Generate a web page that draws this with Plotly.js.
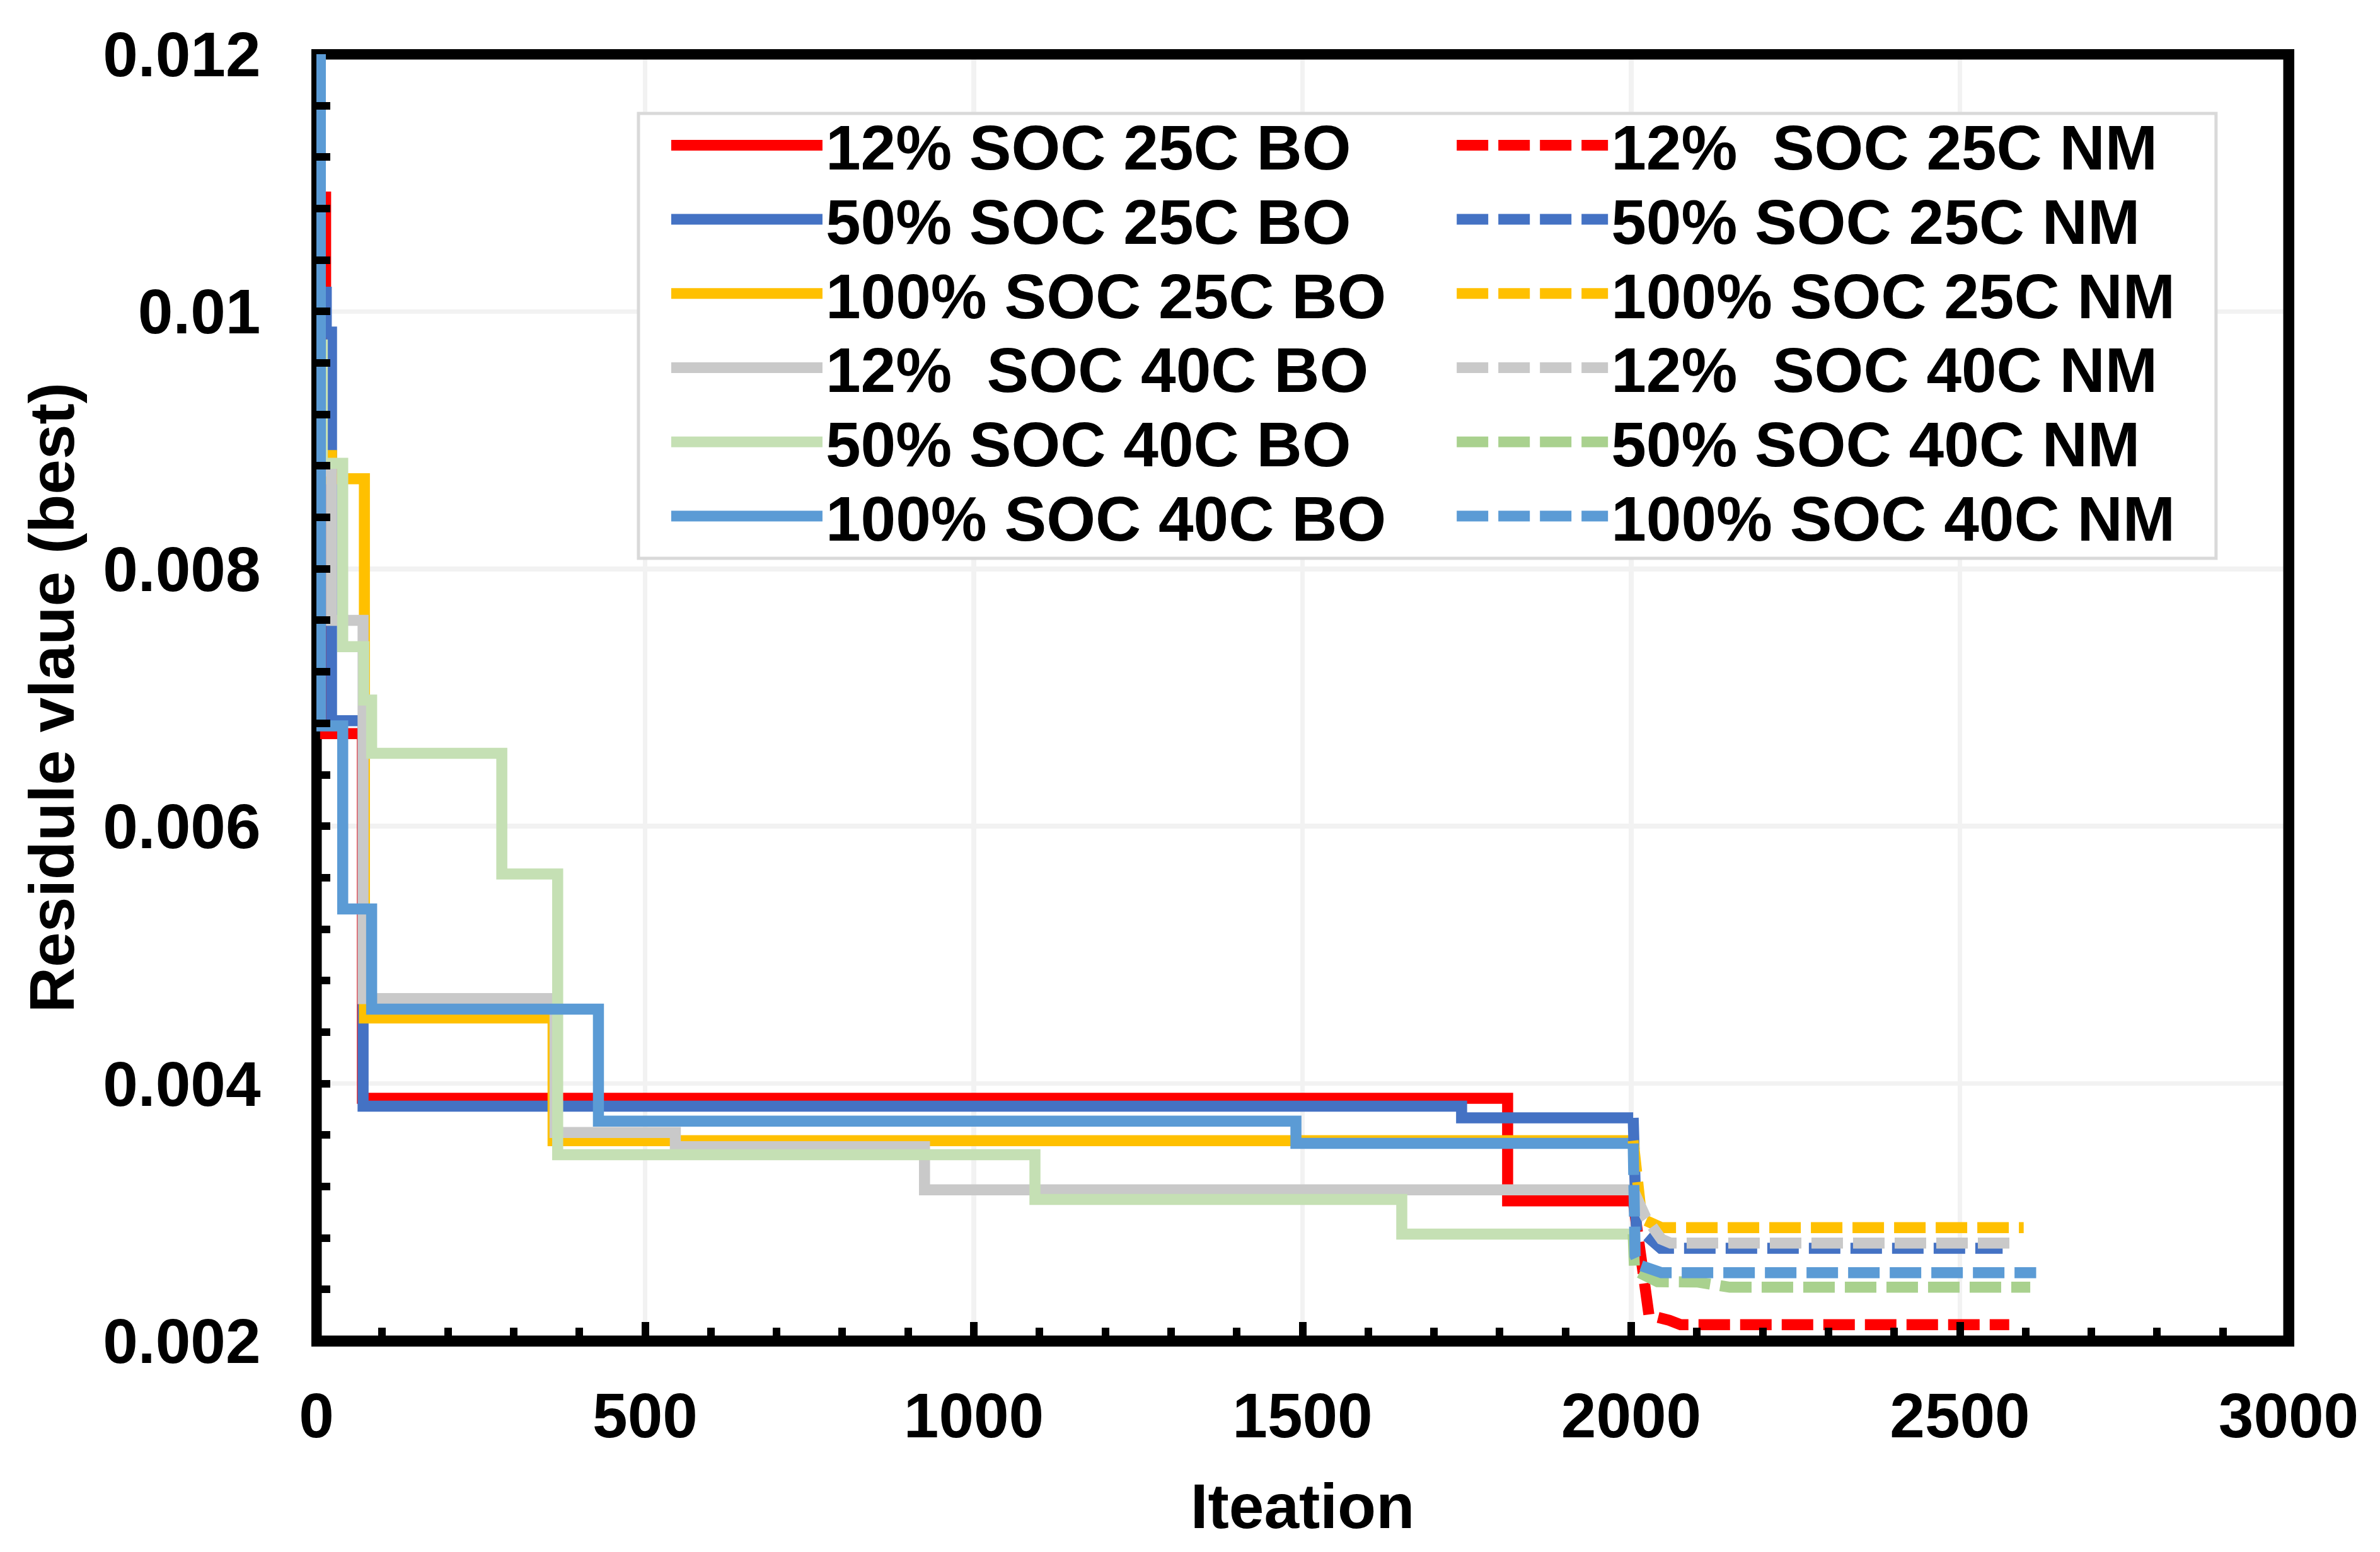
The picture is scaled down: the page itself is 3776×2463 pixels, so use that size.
<!DOCTYPE html>
<html>
<head>
<meta charset="utf-8">
<script src="https://cdn.plot.ly/plotly-3.0.1.min.js"></script>
<style>
  html, body { margin: 0; padding: 0; background: #ffffff; }
  #chart { width: 3776px; height: 2463px; }
</style>
</head>
<body>
<div id="chart"></div>
<script>
// ---------------- DATA ----------------
// Bayesian Optimisation (BO) runs: iteration at which the best residue changes, and the new best value (step curves)
const boNames = ["12% SOC 25C BO", "50% SOC 25C BO", "100% SOC 25C BO", "12%  SOC 40C BO", "50% SOC 40C BO", "100% SOC 40C BO"];
const nmNames = ["12%  SOC 25C NM", "50% SOC 25C NM", "100% SOC 25C NM", "12%  SOC 40C NM", "50% SOC 40C NM", "100% SOC 40C NM"];

const bo12_25_iter = [0, 14, 70, 1812, 2003];
const bo12_25_val  = [0.01089, 0.00672, 0.003885, 0.003088, 0.003088];

const bo50_25_iter = [0, 15, 23, 71, 1742, 2003];
const bo50_25_val  = [0.01015, 0.00984, 0.00682, 0.003824, 0.003734, 0.003734];

const bo100_25_iter = [0, 23, 73, 360, 2003];
const bo100_25_val  = [0.00888, 0.0087, 0.00451, 0.003556, 0.003556];

const bo12_40_iter = [0, 23, 71, 363, 546, 925, 2003];
const bo12_40_val  = [0.00876, 0.0076, 0.00466, 0.00362, 0.00351, 0.003174, 0.003174];

const bo50_40_iter = [0, 4, 9, 40, 72, 84, 282, 367, 1093, 1651, 2003];
const bo50_40_val  = [0.0125, 0.00974, 0.00882, 0.007395, 0.00698, 0.006567, 0.005629, 0.003447, 0.0031, 0.00283, 0.00283];

const bo100_40_iter = [0, 6, 40, 84, 429, 1490, 2003];
const bo100_40_val  = [0.0125, 0.00678, 0.005357, 0.004578, 0.003708, 0.003535, 0.003535];

// Nelder-Mead (NM) continuation runs
const nm12_25_iter = [2003, 2012, 2022, 2027, 2058, 2075, 2575];
const nm12_25_val  = [0.003088, 0.0027, 0.00232, 0.0022, 0.00216, 0.002126, 0.002126];

const nm50_25_iter = [2003, 2008, 2018, 2045, 2565];
const nm50_25_val  = [0.003734, 0.00286, 0.00284, 0.00272, 0.00272];

const nm100_25_iter = [2003, 2012, 2016, 2046, 2597];
const nm100_25_val  = [0.003556, 0.00305, 0.00295, 0.00288, 0.00288];

const nm12_40_iter = [2003, 2015, 2022, 2046, 2060, 2587];
const nm12_40_val  = [0.003174, 0.003, 0.00296, 0.00279, 0.00276, 0.00276];

const nm50_40_iter = [2003, 2005, 2040, 2100, 2150, 2607];
const nm50_40_val  = [0.00283, 0.00255, 0.00246, 0.002458, 0.002417, 0.002417];

const nm100_40_iter = [2003, 2006, 2012, 2046, 2616];
const nm100_40_val  = [0.003535, 0.00266, 0.00259, 0.00253, 0.00253];

// Axis ticks
const xTickVals = [0, 500, 1000, 1500, 2000, 2500, 3000];
const xTickText = ["0", "500", "1000", "1500", "2000", "2500", "3000"];
const yTickVals = [0.002, 0.004, 0.006, 0.008, 0.010, 0.012];
const yTickText = ["0.002", "0.004", "0.006", "0.008", "0.01", "0.012"];

const xTitle = "Iteation";
const yTitle = "Residule vlaue (best)";

// ---------------- STYLE ----------------
const FONT = 'Arial, "Liberation Sans", Helvetica, sans-serif';
const colors   = ["#FF0000", "#4472C4", "#FFC000", "#C9C9C9", "#C5E0B4", "#5B9BD5"];
const nmColors = ["#FF0000", "#4472C4", "#FFC000", "#C9C9C9", "#A9D18E", "#5B9BD5"];
const LW = 17.5;
const LEGEND_ROW_PITCH = 117.7;
const LEGEND_LINE_WIDTH = 17;

const boIters = [bo12_25_iter, bo50_25_iter, bo100_25_iter, bo12_40_iter, bo50_40_iter, bo100_40_iter];
const boVals  = [bo12_25_val, bo50_25_val, bo100_25_val, bo12_40_val, bo50_40_val, bo100_40_val];
const nmIters = [nm12_25_iter, nm50_25_iter, nm100_25_iter, nm12_40_iter, nm50_40_iter, nm100_40_iter];
const nmVals  = [nm12_25_val, nm50_25_val, nm100_25_val, nm12_40_val, nm50_40_val, nm100_40_val];

const traces = [];
for (let i = 0; i < 6; i++) {
  traces.push({
    type: 'scatter', mode: 'lines', name: boNames[i],
    x: boIters[i], y: boVals[i],
    line: { color: colors[i], width: LW, shape: 'hv' },
    legend: 'legend', hoverinfo: 'skip'
  });
}
for (let i = 0; i < 6; i++) {
  traces.push({
    type: 'scatter', mode: 'lines', name: nmNames[i],
    x: nmIters[i], y: nmVals[i],
    line: { color: nmColors[i], width: LW, dash: '50px,16px' },
    legend: 'legend2', hoverinfo: 'skip'
  });
}

const tickFont = { family: FONT, size: 100, color: '#000000', weight: 'bold' };
const legendFont = { family: FONT, size: 100, color: '#000000', weight: 'bold' };

const layout = {
  width: 3776, height: 2463,
  margin: { l: 502, r: 145, t: 86, b: 335, pad: 0 },
  paper_bgcolor: '#ffffff', plot_bgcolor: '#ffffff',
  font: { family: FONT, size: 100, color: '#000000', weight: 'bold' },
  showlegend: true,
  xaxis: {
    range: [0, 3000], tickmode: 'array', tickvals: xTickVals, ticktext: xTickText,
    ticks: 'inside', ticklen: 30, tickwidth: 12, tickcolor: '#000000',
    showline: true, linewidth: 8.5, linecolor: '#000000', mirror: true,
    showgrid: true, gridcolor: '#F2F2F2', gridwidth: 7.5, zeroline: false,
    minor: { tickmode: 'linear', tick0: 0, dtick: 100, ticks: 'inside', ticklen: 21.5, tickwidth: 12, tickcolor: '#000000', showgrid: false },
    tickfont: tickFont, ticklabelstandoff: 24,
    title: { text: xTitle, font: tickFont, standoff: 58 },
    automargin: false, fixedrange: true
  },
  yaxis: {
    range: [0.002, 0.012], tickmode: 'array', tickvals: yTickVals, ticktext: yTickText,
    ticks: 'inside', ticklen: 21.5, tickwidth: 12, tickcolor: '#000000',
    showline: true, linewidth: 8.5, linecolor: '#000000', mirror: true,
    showgrid: true, gridcolor: '#F2F2F2', gridwidth: 7.5, zeroline: false,
    minor: { tickmode: 'linear', tick0: 0.002, dtick: 0.0004, ticks: 'inside', ticklen: 21.5, tickwidth: 12, tickcolor: '#000000', showgrid: false },
    tickfont: tickFont, ticklabelstandoff: 60,
    title: { text: yTitle, font: tickFont, standoff: 16 },
    automargin: false, fixedrange: true
  },
  legend: {
    x: 0.1783, y: 0.9643, xanchor: 'left', yanchor: 'top',
    bgcolor: 'rgba(0,0,0,0)', borderwidth: 0, font: legendFont,
    itemwidth: 240, tracegroupgap: 0, orientation: 'v'
  },
  legend2: {
    x: 0.5766, y: 0.9643, xanchor: 'left', yanchor: 'top',
    bgcolor: 'rgba(0,0,0,0)', borderwidth: 0, font: legendFont,
    itemwidth: 240, tracegroupgap: 0, orientation: 'v'
  },
  shapes: [
    // inner half of the thick plot frame (outer half is the axis line)
    { type: 'rect', xref: 'x', yref: 'y', x0: 0, x1: 3000, y0: 0.002, y1: 0.012,
      line: { color: '#000000', width: 17 }, fillcolor: 'rgba(0,0,0,0)', layer: 'between' },
    // legend box
    { type: 'rect', xref: 'paper', yref: 'paper', x0: 0.1633, x1: 0.9632, y0: 0.6082, y1: 0.9540,
      line: { color: '#D9D9D9', width: 5 }, fillcolor: '#ffffff', layer: 'above' }
  ]
};

// Legend fine-tuning: tighter row pitch and thick sample lines, as in the original Excel chart
function tuneLegend(gd) {
  gd.querySelectorAll('.infolayer .scrollbox').forEach(function (sb) {
    var items = sb.querySelectorAll('g.traces');
    var y0 = null;
    items.forEach(function (it, i) {
      var tr = it.getAttribute('transform') || '';
      var m = /translate\(\s*([-\d.e+]+)[\s,]+([-\d.e+]+)\s*\)/.exec(tr);
      if (!m) return;
      var x = parseFloat(m[1]), y = parseFloat(m[2]);
      if (y0 === null) y0 = y;
      it.setAttribute('transform', 'translate(' + x + ',' + (y0 + i * LEGEND_ROW_PITCH) + ')');
    });
  });
  gd.querySelectorAll('.infolayer .legendlines path').forEach(function (p) {
    p.style.strokeWidth = LEGEND_LINE_WIDTH + 'px';
  });
}

Plotly.newPlot('chart', traces, layout, { staticPlot: true, displayModeBar: false })
  .then(tuneLegend);
</script>
</body>
</html>
